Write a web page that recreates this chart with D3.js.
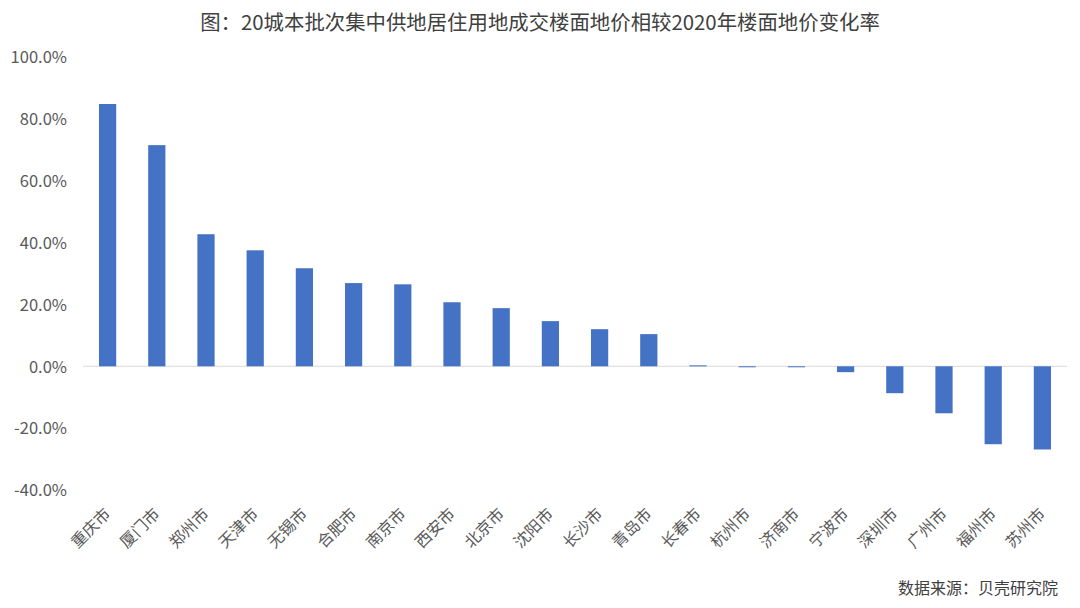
<!DOCTYPE html>
<html><head><meta charset="utf-8">
<script src="https://cdn.jsdelivr.net/npm/d3@7"></script>
<style>body{margin:0;background:#fff;}text{font-family:"Noto Sans CJK SC","Noto Sans",sans-serif;}</style>
</head><body>
<svg id="c" width="1080" height="608"></svg>
<script>
const cities = ["重庆市","厦门市","郑州市","天津市","无锡市","合肥市","南京市","西安市","北京市","沈阳市","长沙市","青岛市","长春市","杭州市","济南市","宁波市","深圳市","广州市","福州市","苏州市"];
const values = [84.8,71.5,42.7,37.5,31.7,26.9,26.5,20.7,18.8,14.6,12.0,10.4,0.3,-0.3,-0.3,-1.9,-8.7,-15.2,-25.2,-26.9];
const yTicks = [-40,-20,0,20,40,60,80,100];
const title = "图：20城本批次集中供地居住用地成交楼面地价相较2020年楼面地价变化率";
const source = "数据来源：贝壳研究院";

const svg = d3.select("#c");
const x = d3.scaleBand().domain(cities).range([83,1067]).paddingInner(0.65).paddingOuter(0.325);
const y = d3.scaleLinear().domain([-40,100]).range([490,57]);
const ff = "'Noto Sans CJK SC','Noto Sans',sans-serif";

svg.append("text").attr("x",540).attr("y",30).attr("text-anchor","middle")
  .attr("font-size",20.4).attr("fill","#404040").text(title);

const ya = svg.append("g").attr("transform","translate(67,0)")
  .call(d3.axisLeft(y).tickValues(yTicks).tickSize(0).tickFormat(d=>d.toFixed(1)+"%"));
ya.select(".domain").remove();
ya.selectAll("text").attr("font-size",16.5).attr("fill","#595959").attr("dy","0.35em").attr("x",0)
  .style("font-family",ff);

svg.append("line").attr("x1",83).attr("x2",1067).attr("y1",y(0)).attr("y2",y(0))
  .attr("stroke","#d9d9d9").attr("stroke-width",1);

svg.selectAll("rect.bar").data(values).enter().append("rect").attr("class","bar")
  .attr("x",(d,i)=>x(cities[i])).attr("width",x.bandwidth())
  .attr("y",d=>y(Math.max(0,d))).attr("height",d=>Math.max(1,Math.abs(y(d)-y(0))))
  .attr("fill","#4472c4");

const xa = svg.append("g").attr("transform","translate(0,0)")
  .call(d3.axisBottom(x).tickSize(0));
xa.select(".domain").remove();
xa.selectAll(".tick").attr("transform",null);
xa.selectAll(".tick text").attr("font-size",16).attr("fill","#595959")
  .attr("text-anchor","end").attr("y",null).attr("dy",null)
  .attr("transform",d=>`translate(${x(d)+x.bandwidth()/2+4},515) rotate(-45)`)
  .style("font-family",ff);

svg.append("text").attr("x",1058).attr("y",594).attr("text-anchor","end")
  .attr("font-size",16).attr("fill","#404040").text(source);
</script>
</body></html>
